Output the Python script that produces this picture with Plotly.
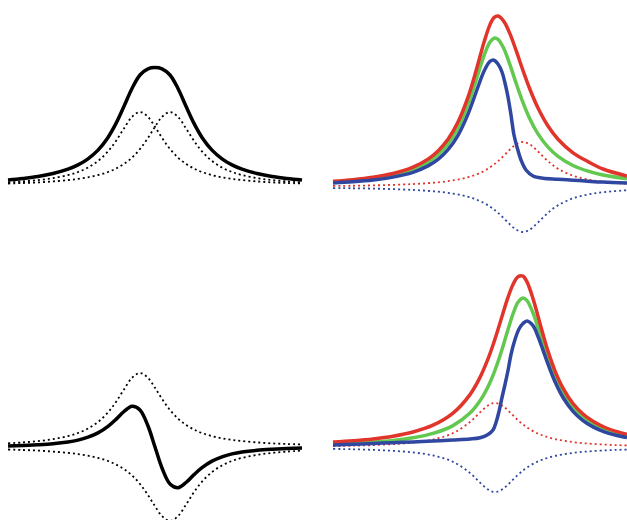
import plotly.graph_objects as go

# ---------------- top-left: two overlapping peaks and their sum ----------------
tl_x = [0, 15, 30, 45, 60, 70, 80, 90, 100, 108, 116, 124, 132, 140, 147, 154, 162,
        170, 178, 186, 194, 204, 214, 224, 234, 249, 264, 279, 294]
tl_peak_a = [3.6, 4.6, 5.9, 7.9, 10.9, 14.0, 18.5, 25.0, 34.6, 45.1, 57.6, 69.1, 74.0,
             69.1, 59.2, 48.1, 37.0, 28.4, 22.1, 17.5, 14.0, 10.9, 8.7, 7.1, 5.9, 4.6,
             3.6, 3.0, 2.5]
tl_peak_b = [2.5, 3.0, 3.6, 4.6, 5.9, 7.1, 8.7, 10.9, 14.0, 17.5, 22.1, 28.4, 37.0,
             48.1, 59.2, 69.1, 74.0, 69.1, 57.6, 45.1, 34.6, 25.0, 18.5, 14.0, 10.9,
             7.9, 5.9, 4.6, 3.6]
tl_total = [6.1, 7.6, 9.5, 12.5, 16.8, 21.1, 27.2, 35.9, 48.6, 62.6, 79.7, 97.5, 111.0,
            117.2, 118.4, 117.2, 111.0, 97.5, 79.7, 62.6, 48.6, 35.9, 27.2, 21.1, 16.8,
            12.5, 9.5, 7.6, 6.1]

# ---------------- bottom-left: positive + negative peak -> dispersive ----------------
bl_x = [0, 15, 30, 45, 60, 70, 80, 90, 100, 108, 116, 124, 132, 140, 147, 154, 162,
        170, 178, 186, 194, 204, 214, 224, 234, 249, 264, 279, 294]
bl_pos = [3.6, 4.6, 5.9, 7.9, 10.9, 14.0, 18.5, 25.0, 34.6, 45.1, 57.6, 69.1, 74.0,
          69.1, 59.2, 48.1, 37.0, 28.4, 22.1, 17.5, 14.0, 10.9, 8.7, 7.1, 5.9, 4.6,
          3.6, 3.0, 2.5]
bl_neg = [-2.5, -3.0, -3.6, -4.6, -5.9, -7.1, -8.7, -10.9, -14.0, -17.5, -22.1, -28.4,
          -37.0, -48.1, -59.2, -69.1, -74.0, -69.1, -57.6, -45.1, -34.6, -25.0, -18.5,
          -14.0, -10.9, -7.9, -5.9, -4.6, -3.6]
bl_total = [1.1, 1.6, 2.3, 3.3, 5.0, 6.9, 9.8, 14.1, 20.6, 27.6, 35.5, 40.7, 37.0, 21.0,
            0.0, -21.0, -37.0, -40.7, -35.5, -27.6, -20.6, -14.1, -9.8, -6.9, -5.0,
            -3.3, -2.3, -1.6, -1.1]

# ---------------- top-right ----------------
tr_x = [0, 20, 40, 60, 80, 95, 105, 115, 125, 135, 143, 151, 157, 161, 165, 171, 177,
        183, 190, 197, 205, 215, 225, 240, 255, 270, 294]
tr_green = [4.9, 6.4, 8.5, 11.9, 17.6, 24.9, 32.3, 43.1, 59.1, 82.3, 106.4, 131.4, 145.0,
            148.8, 147.7, 138.1, 122.1, 104.1, 84.4, 67.8, 53.1, 39.8, 30.6, 21.5, 15.8,
            12.0, 8.3]
tr_red = [5.7, 7.3, 9.75, 13.5, 19.9, 27.9, 36.1, 47.7, 64.9, 89.8, 116.0, 144.7, 162.4,
          169.4, 171.0, 165.4, 153.1, 136.8, 116.5, 97.5, 79.0, 61.0, 47.8, 34.2, 25.4,
          18.0, 11.0]
tr_pos = [1.03, 1.27, 1.62, 2.13, 2.92, 3.84, 4.69, 5.85, 7.47, 9.78, 12.4, 16.0, 19.6,
          22.5, 25.8, 31.5, 37.5, 42.5, 45.0, 42.5, 35.5, 25.8, 18.3, 11.3, 7.47, 5.23,
          3.25]
tr_neg = [-1.03, -1.27, -1.62, -2.13, -2.92, -3.84, -4.69, -5.85, -7.47, -9.78, -12.4,
          -16.0, -19.6, -22.5, -25.8, -31.5, -37.5, -42.5, -45.0, -42.5, -35.5, -25.8,
          -18.3, -11.3, -7.47, -5.23, -3.25]
tr_blue_x = [0, 20, 40, 60, 80, 95, 105, 115, 125, 135, 143, 151, 157, 161, 165, 169, 172,
             175, 178, 181, 184, 188, 193, 200, 210, 225, 240, 255, 270, 294]
tr_blue = [4.0, 5.2, 7.0, 9.9, 14.7, 21.1, 27.6, 37.3, 51.7, 72.9, 94.5, 115.8, 125.7,
           126.8, 123.0, 115.0, 104.0, 90.0, 72.0, 52.0, 40.0, 27.0, 17.0, 11.0, 8.7,
           7.8, 6.8, 5.8, 4.9, 4.0]

# ---------------- bottom-right ----------------
br_x = [0, 20, 40, 60, 80, 100, 120, 137, 147, 155, 160, 165, 170, 175, 180, 185, 190,
        194, 200, 205, 210, 215, 222, 230, 240, 250, 260, 272, 283, 294]
br_green = [3.4, 4.2, 5.4, 7.1, 9.7, 14.1, 21.9, 34.4, 46.7, 60.8, 72.2, 85.8, 101.3,
            117.9, 133.6, 145.2, 149.5, 146.9, 134.6, 119.6, 103.5, 88.2, 69.9, 53.8,
            39.6, 29.9, 23.2, 17.6, 14.1, 11.5]
br_red = [5.4, 6.8, 8.6, 11.3, 15.5, 22.3, 34.4, 52.9, 70.1, 88.6, 102.5, 118.0, 134.4,
          150.1, 163.0, 170.7, 171.3, 165.6, 148.9, 131.2, 113.2, 96.4, 76.7, 59.4, 44.0,
          33.5, 26.2, 20.0, 16.1, 13.1]
br_pos = [1.38, 1.78, 2.38, 3.33, 4.94, 7.99, 14.36, 25.5, 35.1, 42.0, 44.3, 44.0, 41.4,
          37.1, 32.1, 27.3, 23.0, 20.1, 16.4, 13.9, 11.9, 10.3, 8.43, 6.85, 5.40, 4.36,
          3.58, 2.89, 2.42, 2.05]
br_neg = [-1.38, -1.78, -2.38, -3.33, -4.94, -7.99, -14.36, -25.5, -35.1, -42.0, -44.3,
          -44.0, -41.4, -37.1, -32.1, -27.3, -23.0, -20.1, -16.4, -13.9, -11.9, -10.3,
          -8.43, -6.85, -5.40, -4.36, -3.58, -2.89, -2.42, -2.05]
br_blue_x = [0, 20, 40, 60, 80, 100, 120, 137, 147, 155, 160, 163, 166, 169, 172, 175, 178,
             182, 186, 190, 194, 200, 205, 210, 215, 222, 230, 240, 250, 260, 272, 283, 294]
br_blue = [2.5, 3.2, 4.0, 4.8, 5.6, 6.5, 7.5, 8.5, 9.8, 13.0, 17.5, 25.0, 36.0, 50.0,
           63.0, 77.0, 93.0, 108.0, 118.5, 124.0, 126.5, 121.8, 111.0, 97.4, 83.3, 65.7,
           50.0, 36.1, 26.9, 20.6, 15.4, 12.2, 9.9]

RED = "#E1352B"
GREEN = "#62C84F"
BLUE = "#2F47A0"
BLACK = "#000000"
DOT = "2px,3px"

fig = go.Figure()


def add(x, y, color, width, dash, axis):
    fig.add_trace(go.Scatter(
        x=x, y=y, mode="lines",
        line=dict(color=color, width=width, dash=dash, shape="spline", smoothing=1.0),
        xaxis="x" + axis, yaxis="y" + axis,
        hoverinfo="skip", showlegend=False))


# top-left (axis "")
add(tl_x, tl_peak_a, BLACK, 1.8, DOT, "")
add(tl_x, tl_peak_b, BLACK, 1.8, DOT, "")
add(tl_x, tl_total, BLACK, 3.5, "solid", "")

# top-right (axis 2)
add(tr_x, tr_pos, RED, 1.8, DOT, "2")
add(tr_x, tr_neg, BLUE, 1.8, DOT, "2")
add(tr_x, tr_green, GREEN, 3.5, "solid", "2")
add(tr_x, tr_red, RED, 3.5, "solid", "2")
add(tr_blue_x, tr_blue, BLUE, 3.5, "solid", "2")

# bottom-left (axis 3)
add(bl_x, bl_pos, BLACK, 1.8, DOT, "3")
add(bl_x, bl_neg, BLACK, 1.8, DOT, "3")
add(bl_x, bl_total, BLACK, 3.5, "solid", "3")

# bottom-right (axis 4)
add(br_x, br_pos, RED, 1.8, DOT, "4")
add(br_x, br_neg, BLUE, 1.8, DOT, "4")
add(br_x, br_green, GREEN, 3.5, "solid", "4")
add(br_x, br_red, RED, 3.5, "solid", "4")
add(br_blue_x, br_blue, BLUE, 3.5, "solid", "4")

hidden = dict(visible=False, showgrid=False, zeroline=False, fixedrange=True)

fig.update_layout(
    width=627, height=520,
    margin=dict(l=0, r=0, t=0, b=0),
    paper_bgcolor="white", plot_bgcolor="rgba(0,0,0,0)",
    xaxis=dict(domain=[0, 0.5], range=[-8, 305.5], anchor="y", **hidden),
    yaxis=dict(domain=[0.5, 1], range=[-74, 186], anchor="x", **hidden),
    xaxis2=dict(domain=[0.5, 1], range=[-19.5, 294], anchor="y2", **hidden),
    yaxis2=dict(domain=[0.5, 1], range=[-73, 187], anchor="x2", **hidden),
    xaxis3=dict(domain=[0, 0.5], range=[-8, 305.5], anchor="y3", **hidden),
    yaxis3=dict(domain=[0, 0.5], range=[-73, 187], anchor="x3", **hidden),
    xaxis4=dict(domain=[0.5, 1], range=[-19.5, 294], anchor="y4", **hidden),
    yaxis4=dict(domain=[0, 0.5], range=[-72.5, 187.5], anchor="x4", **hidden),
)

page_fix = (
    "document.documentElement.style.margin='0';"
    "document.body.style.margin='0';"
    "document.body.style.padding='0';"
    "document.body.style.overflow='hidden';"
)

fig.write_html("out.html", config={"displayModeBar": False, "staticPlot": True},
               post_script=page_fix)
